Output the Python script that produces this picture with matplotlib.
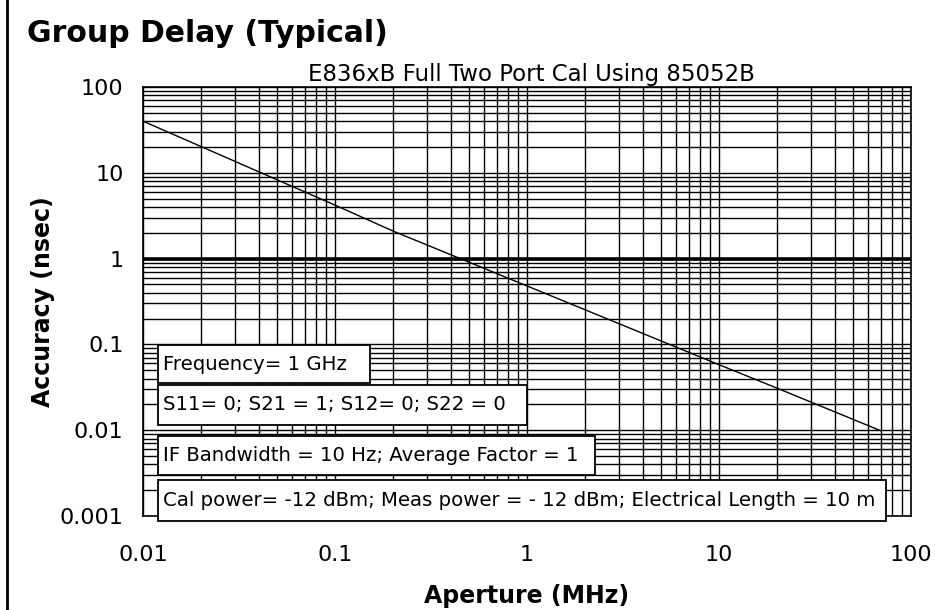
import numpy as np
import matplotlib.pyplot as plt
from matplotlib.patches import Rectangle
from matplotlib.lines import Line2D
from matplotlib.ticker import LogLocator, FixedLocator, FixedFormatter

# Data
aperture = [0.01, 0.1, 0.2, 1, 10, 20, 70]          # MHz
accuracy = [40, 4.2, 2.1, 0.48, 0.058, 0.031, 0.0098]  # nsec

x_ticks = [0.01, 0.1, 1, 10, 100]
x_labels = ["0.01", "0.1", "1", "10", "100"]
y_ticks = [0.001, 0.01, 0.1, 1, 10, 100]
y_labels = ["0.001", "0.01", "0.1", "1", "10", "100"]

notes = [
    "Frequency= 1 GHz",
    "S11= 0; S21 = 1; S12= 0; S22 = 0",
    "IF Bandwidth = 10 Hz; Average Factor = 1",
    "Cal power= -12 dBm; Meas power = - 12 dBm; Electrical Length = 10 m",
]
# note boxes in pixels: left, top, right, bottom (image coords)
note_boxes = [(158, 345, 370, 383), (158, 385, 527, 425),
              (158, 436, 595, 475), (158, 480, 886, 521)]

plt.rcParams['font.family'] = ['DejaVu Sans']

W, H = 935, 610
fig = plt.figure(figsize=(W / 100, H / 100), dpi=100)
ax = fig.add_axes([143 / W, 1 - 516 / H, 768 / W, 429 / H])

ax.set_xscale('log')
ax.set_yscale('log')
ax.set_xlim(0.01, 100)
ax.set_ylim(0.001, 100)

# grid: every 1..9 in each decade, black
ax.xaxis.set_major_locator(FixedLocator(x_ticks))
ax.xaxis.set_major_formatter(FixedFormatter(x_labels))
ax.yaxis.set_major_locator(FixedLocator(y_ticks))
ax.yaxis.set_major_formatter(FixedFormatter(y_labels))
ax.xaxis.set_minor_locator(LogLocator(base=10, subs=np.arange(2, 10)))
ax.yaxis.set_minor_locator(LogLocator(base=10, subs=np.arange(2, 10)))
ax.xaxis.set_minor_formatter(plt.NullFormatter())
ax.yaxis.set_minor_formatter(plt.NullFormatter())
ax.grid(True, which='both', color='black', linewidth=1.0)
ax.axhline(1, color='black', linewidth=2.6, zorder=2)
ax.tick_params(which='both', length=0)
ax.tick_params(axis='x', pad=21, labelsize=16)
ax.tick_params(axis='y', pad=14, labelsize=16)
for s in ax.spines.values():
    s.set_color('black')
    s.set_linewidth(1.2)

ax.plot(aperture, accuracy, color='black', linewidth=1.0, zorder=3)

ax.set_xlabel("Aperture (MHz)", fontsize=17, fontweight='bold')
ax.xaxis.set_label_coords(0.5, -0.158)
ax.set_ylabel("Accuracy (nsec)", fontsize=17, fontweight='bold')
ax.yaxis.set_label_coords(-0.114, 0.5)

fig.text(27 / W, 1 - 33 / H, "Group Delay (Typical)", fontsize=21.5,
         fontweight='bold', ha='left', va='center')
fig.text(531 / W, 1 - 75 / H, "E836xB Full Two Port Cal Using 85052B",
         fontsize=16.5, ha='center', va='center')

# note boxes drawn over the grid
for txt, (l, t, r, b) in zip(notes, note_boxes):
    rect = Rectangle((l / W, 1 - b / H), (r - l) / W, (b - t) / H,
                     transform=fig.transFigure, facecolor='white',
                     edgecolor='black', linewidth=1.3, zorder=5)
    fig.add_artist(rect)
    fig.text((l + 5) / W, 1 - (t + b) / 2 / H, txt, fontsize=14.2,
             ha='left', va='center', zorder=6)

# left frame line
fig.add_artist(Line2D([7 / W, 7 / W], [0, 1], transform=fig.transFigure,
                      color='black', linewidth=2))

fig.savefig("out.png", dpi=100, facecolor='white')
